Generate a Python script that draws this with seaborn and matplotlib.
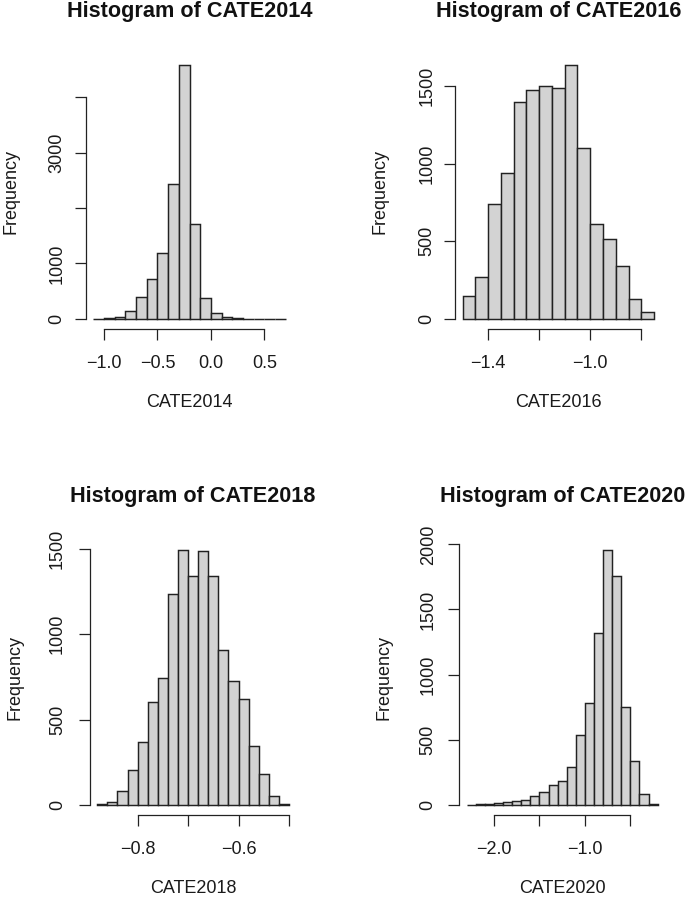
import numpy as np
import pandas as pd
import matplotlib
matplotlib.use("Agg")
import matplotlib.pyplot as plt
import seaborn as sns

# ---------------- data ----------------
names = ["CATE2014", "CATE2016", "CATE2018", "CATE2020"]

edges_2014 = [-1.1, -1.0, -0.9, -0.8, -0.7, -0.6, -0.5, -0.4, -0.3, -0.2,
              -0.1, 0.0, 0.1, 0.2, 0.3, 0.4, 0.5, 0.6, 0.7]
counts_2014 = [3, 18, 42, 139, 392, 711, 1193, 2428, 4590, 1705,
               373, 108, 36, 18, 6, 3, 2, 1]

edges_2016 = [-1.5, -1.45, -1.4, -1.35, -1.3, -1.25, -1.2, -1.15, -1.1,
              -1.05, -1.0, -0.95, -0.9, -0.85, -0.8, -0.75]
counts_2016 = [148, 271, 741, 941, 1399, 1476, 1498, 1485, 1637,
               1098, 608, 516, 342, 129, 41]

edges_2018 = [-0.88, -0.86, -0.84, -0.82, -0.80, -0.78, -0.76, -0.74, -0.72,
              -0.70, -0.68, -0.66, -0.64, -0.62, -0.60, -0.58, -0.56, -0.54,
              -0.52, -0.50]
counts_2018 = [2, 18, 82, 204, 371, 600, 741, 1239, 1496, 1341,
               1488, 1343, 906, 725, 620, 343, 182, 51, 4]

edges_2020 = [-2.3, -2.2, -2.1, -2.0, -1.9, -1.8, -1.7, -1.6, -1.5, -1.4,
              -1.3, -1.2, -1.1, -1.0, -0.9, -0.8, -0.7, -0.6, -0.5, -0.4,
              -0.3, -0.2]
counts_2020 = [1, 3, 8, 10, 23, 28, 38, 67, 97, 149, 179, 290, 533, 785,
               1323, 1959, 1754, 754, 338, 82, 5]

xticks_2014 = [-1.0, -0.5, 0.0, 0.5]
xticklabels_2014 = ["\u22121.0", "\u22120.5", "0.0", "0.5"]
yticks_2014 = [0, 1000, 2000, 3000, 4000]
yticklabels_2014 = ["0", "1000", "", "3000", ""]

xticks_2016 = [-1.4, -1.2, -1.0, -0.8]
xticklabels_2016 = ["\u22121.4", "", "\u22121.0", ""]
yticks_2016 = [0, 500, 1000, 1500]
yticklabels_2016 = ["0", "500", "1000", "1500"]

xticks_2018 = [-0.8, -0.7, -0.6, -0.5]
xticklabels_2018 = ["\u22120.8", "", "\u22120.6", ""]
yticks_2018 = [0, 500, 1000, 1500]
yticklabels_2018 = ["0", "500", "1000", "1500"]

xticks_2020 = [-2.0, -1.5, -1.0, -0.5]
xticklabels_2020 = ["\u22122.0", "", "\u22121.0", ""]
yticks_2020 = [0, 500, 1000, 1500, 2000]
yticklabels_2020 = ["0", "500", "1000", "1500", "2000"]

# ---------------- style ----------------
sns.set_style("ticks")
plt.rcParams["font.family"] = ["Liberation Sans", "DejaVu Sans"]
plt.rcParams["axes.unicode_minus"] = True

W, H = 685, 901
fig = plt.figure(figsize=(W / 100, H / 100), dpi=100)

# plot regions in pixels: left, right, top, bottom ; y-label offset
layout = [
    (85.6, 293.4, 54.5, 329.0, 30.5),
    (455.0, 661.7, 54.5, 329.0, 30.0),
    (89.6, 296.7, 539.5, 815.0, 34.0),
    (459.0, 665.3, 539.5, 815.0, 32.6),
]

panels = [
    (edges_2014, counts_2014, xticks_2014, xticklabels_2014, yticks_2014, yticklabels_2014),
    (edges_2016, counts_2016, xticks_2016, xticklabels_2016, yticks_2016, yticklabels_2016),
    (edges_2018, counts_2018, xticks_2018, xticklabels_2018, yticks_2018, yticklabels_2018),
    (edges_2020, counts_2020, xticks_2020, xticklabels_2020, yticks_2020, yticklabels_2020),
]

PT = 0.72  # points per pixel at 100 dpi
tick_len_px = 11.0

for name, (edges, counts, xt, xtl, yt, ytl), (l, r, t, b, dlab) in zip(names, panels, layout):
    ax = fig.add_axes([l / W, 1 - b / H, (r - l) / W, (b - t) / H])
    e = np.asarray(edges, dtype=float)
    centers = (e[:-1] + e[1:]) / 2
    df = pd.DataFrame({"x": centers, "n": np.asarray(counts, dtype=float)})
    sns.histplot(data=df, x="x", weights="n", bins=list(edges), stat="count",
                 color="#D3D3D3", edgecolor="#222222", linewidth=1.05,
                 alpha=1, ax=ax)
    span = e[-1] - e[0]
    ax.set_xlim(e[0] - 0.04 * span, e[-1] + 0.04 * span)
    m = max(counts)
    ax.set_ylim(-0.04 * m, 1.04 * m)

    ax.set_xticks(xt)
    ax.set_xticklabels(xtl)
    ax.set_yticks(yt)
    ax.set_yticklabels(ytl, rotation=90, va="center")

    for s in ("top", "right"):
        ax.spines[s].set_visible(False)
    ax.spines["left"].set_bounds(yt[0], yt[-1])
    ax.spines["bottom"].set_bounds(xt[0], xt[-1])
    for s in ("left", "bottom"):
        ax.spines[s].set_linewidth(0.9)
        ax.spines[s].set_color("#222222")

    ypad_px = dlab - 21.3
    ax.tick_params(axis="both", direction="out", length=tick_len_px * PT,
                   width=0.9, color="#222222", labelsize=13, labelcolor="#1a1a1a")
    ax.tick_params(axis="x", pad=15.5 * PT)
    ax.tick_params(axis="y", pad=ypad_px * PT)

    wpx, hpx = r - l, b - t
    ax.set_xlabel(name, fontsize=13, va="top", color="#1a1a1a")
    ax.xaxis.set_label_coords(0.5, -65.0 / hpx)
    ax.set_ylabel("Frequency", fontsize=13, va="center", color="#1a1a1a")
    ax.yaxis.set_label_coords(-75.0 / wpx, 0.5)
    ax.set_title(f"Histogram of {name}", fontsize=15.6, fontweight="bold",
                 pad=27.3, color="#111111")

fig.savefig("out.png", dpi=100)
